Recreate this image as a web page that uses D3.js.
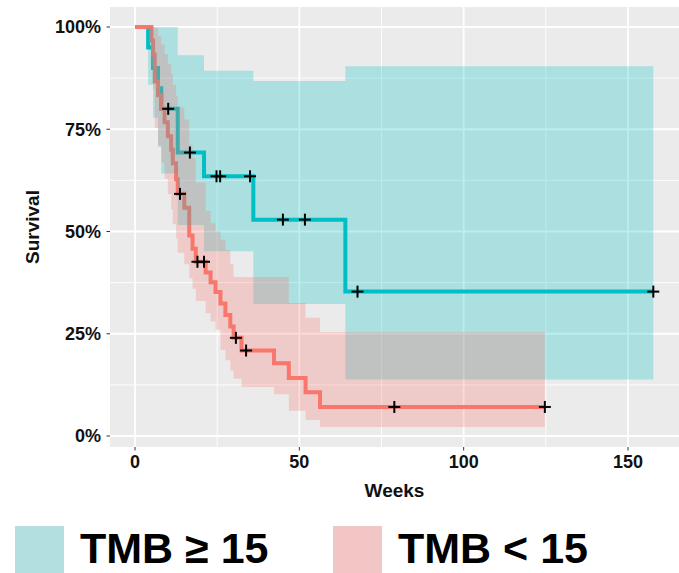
<!DOCTYPE html>
<html>
<head>
<meta charset="utf-8">
<script src="https://cdn.jsdelivr.net/npm/d3@7"></script>
<style>
  html, body { margin: 0; padding: 0; background: #fff; }
  svg { display: block; font-family: "Liberation Sans", Arial, sans-serif; }
</style>
</head>
<body>
<svg id="chart" width="679" height="573"></svg>
<script>
// Kaplan–Meier survival by tumour mutational burden (weeks on x, survival in %)
const groups = ["TMB ≥ 15", "TMB < 15"];
const groupColors = ["#00BFC4", "#F8766D"];
const legendFills = ["#B3DFE0", "#F2C6C5"];

// TMB ≥ 15: step times, survival estimate and confidence band
const highTime  = [0, 4, 5.5, 7, 8, 13, 21, 36, 64];
const highSurv  = [100, 95, 90, 85, 80, 69.3, 63.5, 52.9, 35.3];
const highLower = [100, 85.9, 77.8, 70.7, 64.2, 51.6, 45.2, 32.3, 13.8];
const highUpper = [100, 100, 100, 100, 100, 93.1, 89.3, 86.8, 90.4];
const highEnd = 157.7;
const highCensor = [10.1, 16.7, 24.8, 25.9, 35, 45, 51.7, 67.7, 157.7];

// TMB < 15
const lowTime  = [0, 5, 5.5, 6, 7, 8, 9, 10, 11, 11.5, 12.5, 13, 15, 16.5, 17.5, 18.5,
                  21.5, 23, 24.5, 26, 27.5, 29, 30, 32.4, 42.3, 46.8, 51.9, 56.3];
const lowSurv  = [100, 96.7, 93.3, 86.7, 83.3, 80, 76.7, 73.3, 70, 66.7, 62.8, 59.2, 55.8, 49.0, 45.8, 42.6,
                  40.0, 37.6, 35.2, 32.4, 29.6, 26.8, 24.0, 20.9, 17.8, 14.2, 10.7, 7.1];
const lowLower = [100, 90.4, 84.8, 75.3, 71.0, 66.9, 62.9, 59.1, 55.4, 51.8, 48.3, 44.8, 42.0, 38.5, 36.0, 33.0,
                  30.0, 28.0, 26.0, 21.0, 18.5, 16.0, 14.0, 12.0, 10.2, 6.2, 3.9, 2.2];
const lowUpper = [100, 100, 100, 99.8, 97.8, 95.7, 93.4, 91.0, 88.5, 85.9, 83.1, 80.3, 77.4, 71.2, 68.0, 62.0,
                  55.0, 52.0, 50.0, 48.0, 45.5, 42.0, 38.9, 38.9, 38.9, 32.5, 28.9, 25.4];
const lowEnd = 124.7;
const lowCensor = [13.7, 19, 21, 30.7, 33.8, 78.9, 124.7];

const xTicks = [0, 50, 100, 150];
const xMinor = [25, 75, 125];
const yTicks = [0, 25, 50, 75, 100];
const yMinor = [12.5, 37.5, 62.5, 87.5];
const yTickLabels = ["0%", "25%", "50%", "75%", "100%"];

const svg = d3.select("#chart");
const panel = { left: 110, right: 679, top: 7, bottom: 447 };

const x = d3.scaleLinear().domain([0, 150]).range([135, 628]);
const y = d3.scaleLinear().domain([0, 100]).range([436, 27]);

// panel background and grid
svg.append("rect")
  .attr("x", panel.left).attr("y", panel.top)
  .attr("width", panel.right - panel.left).attr("height", panel.bottom - panel.top)
  .attr("fill", "#EBEBEB");

const grid = svg.append("g");
grid.selectAll(".xminor").data(xMinor).join("line")
  .attr("x1", d => x(d)).attr("x2", d => x(d))
  .attr("y1", panel.top).attr("y2", panel.bottom)
  .attr("stroke", "#fff").attr("stroke-width", 0.9);
grid.selectAll(".yminor").data(yMinor).join("line")
  .attr("y1", d => y(d)).attr("y2", d => y(d))
  .attr("x1", panel.left).attr("x2", panel.right)
  .attr("stroke", "#fff").attr("stroke-width", 0.9);
grid.selectAll(".xmajor").data(xTicks).join("line")
  .attr("x1", d => x(d)).attr("x2", d => x(d))
  .attr("y1", panel.top).attr("y2", panel.bottom)
  .attr("stroke", "#fff").attr("stroke-width", 1.8);
grid.selectAll(".ymajor").data(yTicks).join("line")
  .attr("y1", d => y(d)).attr("y2", d => y(d))
  .attr("x1", panel.left).attr("x2", panel.right)
  .attr("stroke", "#fff").attr("stroke-width", 1.8);

// build step series for each group
function series(time, surv, lower, upper, end) {
  const pts = time.map((t, i) => ({ t, s: surv[i], lo: lower[i], hi: upper[i] }));
  const last = pts[pts.length - 1];
  pts.push({ t: end, s: last.s, lo: last.lo, hi: last.hi });
  return pts;
}
const data = [
  series(highTime, highSurv, highLower, highUpper, highEnd),
  series(lowTime, lowSurv, lowLower, lowUpper, lowEnd)
];
const censors = [highCensor, lowCensor];

const line = d3.line().x(d => x(d.t)).y(d => y(d.s)).curve(d3.curveStepAfter);
const area = d3.area().x(d => x(d.t)).y0(d => y(d.lo)).y1(d => y(d.hi)).curve(d3.curveStepAfter);

// survival curves
data.forEach((pts, i) => {
  svg.append("path").datum(pts)
    .attr("d", line)
    .attr("fill", "none")
    .attr("stroke", groupColors[i])
    .attr("stroke-width", 4)
    .attr("stroke-linejoin", "miter");
});

// confidence bands
data.forEach((pts, i) => {
  svg.append("path").datum(pts)
    .attr("d", area)
    .attr("fill", groupColors[i])
    .attr("fill-opacity", 0.27);
});

// censoring marks
function survAt(pts, t) {
  let v = pts[0].s;
  for (const p of pts) { if (p.t <= t) v = p.s; }
  return v;
}
censors.forEach((cs, i) => {
  const g = svg.append("g");
  cs.forEach(t => {
    const cx = x(t), cy = y(survAt(data[i], t));
    g.append("line").attr("x1", cx - 6).attr("x2", cx + 6).attr("y1", cy).attr("y2", cy)
      .attr("stroke", "#000").attr("stroke-width", 2);
    g.append("line").attr("x1", cx).attr("x2", cx).attr("y1", cy - 6).attr("y2", cy + 6)
      .attr("stroke", "#000").attr("stroke-width", 2);
  });
});

// axes
const yAxis = svg.append("g");
yAxis.selectAll("line").data(yTicks).join("line")
  .attr("x1", panel.left - 3.5).attr("x2", panel.left)
  .attr("y1", d => y(d)).attr("y2", d => y(d))
  .attr("stroke", "#333").attr("stroke-width", 1);
yAxis.selectAll("text").data(yTicks).join("text")
  .attr("x", panel.left - 9).attr("y", d => y(d)).attr("dy", "0.36em")
  .attr("text-anchor", "end").attr("font-size", 18).attr("font-weight", "bold")
  .attr("fill", "#111")
  .text((d, i) => yTickLabels[i]);

const xAxis = svg.append("g");
xAxis.selectAll("line").data(xTicks).join("line")
  .attr("x1", d => x(d)).attr("x2", d => x(d))
  .attr("y1", panel.bottom).attr("y2", panel.bottom + 3.5)
  .attr("stroke", "#333").attr("stroke-width", 1);
xAxis.selectAll("text").data(xTicks).join("text")
  .attr("x", d => x(d)).attr("y", 468)
  .attr("text-anchor", "middle").attr("font-size", 18).attr("font-weight", "bold")
  .attr("fill", "#111")
  .text(d => d);

svg.append("text")
  .attr("x", (panel.left + panel.right) / 2).attr("y", 497)
  .attr("text-anchor", "middle").attr("font-size", 19).attr("font-weight", "bold")
  .attr("fill", "#111").text("Weeks");

svg.append("text")
  .attr("transform", `translate(39, ${(panel.top + panel.bottom) / 2}) rotate(-90)`)
  .attr("text-anchor", "middle").attr("font-size", 19).attr("font-weight", "bold")
  .attr("fill", "#111").text("Survival");

// legend
const legendX = [15, 333];
const legend = svg.append("g");
groups.forEach((name, i) => {
  legend.append("rect")
    .attr("x", legendX[i]).attr("y", 526).attr("width", 49).attr("height", 47)
    .attr("fill", legendFills[i]);
  legend.append("text")
    .attr("x", legendX[i] + 65).attr("y", 563)
    .attr("font-size", 43).attr("font-weight", "bold").attr("fill", "#000")
    .text(name);
});
</script>
</body>
</html>
